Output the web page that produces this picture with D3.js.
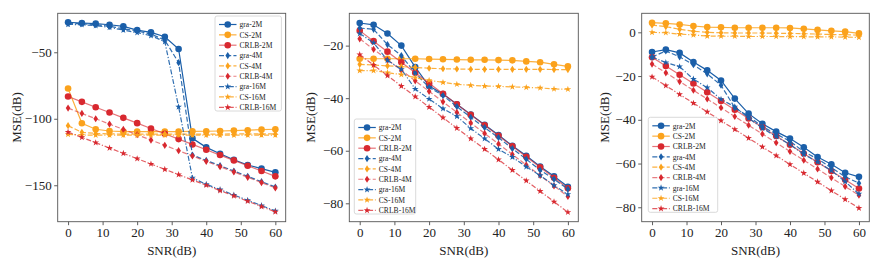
<!DOCTYPE html>
<html><head><meta charset="utf-8">
<script src="https://cdn.jsdelivr.net/npm/d3@7"></script>
<style>
body{margin:0;background:#fff;}
svg{display:block;}
text{font-family:"Liberation Serif","DejaVu Serif",serif;fill:#222;}
</style></head><body>
<svg id="c" width="891" height="262"></svg>
<script>
const snr = [0,4,8,12,16,20,24,28,32,36,40,44,48,52,56,60];
const xTicks = [0,10,20,30,40,50,60];
const seriesNames = ["gra-2M","CS-2M","CRLB-2M","gra-4M","CS-4M","CRLB-4M","gra-16M","CS-16M","CRLB-16M"];

// Panel A
const a_gra2  = [-27.5,-28,-28.5,-29.3,-30.5,-33.3,-35,-38.3,-47.5,-114.7,-121.5,-126.3,-130.8,-134.8,-137.5,-140.3];
const a_cs2   = [-77.3,-103.4,-107.9,-109.2,-109.7,-109.7,-109.7,-109.7,-109.6,-109.5,-109.4,-109.2,-108.9,-108.6,-108.2,-107.9];
const a_crlb2 = [-83.3,-87.3,-91.3,-95.3,-99.3,-103.3,-107.3,-111.3,-115.3,-119.3,-123.3,-127.3,-131.3,-135.3,-139.3,-143.3];
const a_gra4  = [-28.3,-28.5,-29.3,-30.5,-32.3,-34,-36.3,-40.8,-57.8,-127.3,-131.3,-135.3,-139.3,-143.3,-147.3,-151.3];
const a_cs4   = [-105.2,-110.2,-111,-111.4,-111.5,-111.5,-111.5,-111.5,-111.5,-111.5,-111.5,-111.5,-111.4,-111.4,-111.4,-111.3];
const a_crlb4 = [-92,-96,-100,-104,-108,-112,-116,-120,-124,-128,-132,-136,-140,-144,-148,-152];
const a_gra16 = [-29,-29.3,-30,-31.3,-33.3,-35.3,-37.5,-42,-91,-144.5,-149.3,-153.3,-157.3,-161.3,-165.3,-169.3];
const a_cs16  = [-111.7,-112.2,-112.3,-112.3,-112.3,-112.3,-112.3,-112.3,-112.3,-112.3,-112.3,-112.3,-112.3,-112.3,-112.3,-112.3];
const a_crlb16= [-110,-114,-118,-122,-126,-130,-134,-138,-142,-146,-150,-154,-158,-162,-166,-170];
const a_yTicks = [-50,-100,-150];

// Panel B
const b_gra2  = [-11.4,-12.1,-15.4,-20,-28.2,-35.4,-38.4,-42.3,-46.2,-50.1,-54,-58.1,-61.9,-66,-69.7,-73.7];
const b_cs2   = [-25,-25,-25,-25,-25,-25.1,-25.2,-25.3,-25.4,-25.4,-25.5,-25.6,-26,-26.3,-27.1,-27.9];
const b_crlb2 = [-14.3,-18.3,-22.3,-26.3,-30.3,-34.3,-38.3,-42.3,-46.3,-50.3,-54.3,-58.3,-62.3,-66.3,-70.3,-74.3];
const b_gra4  = [-13.3,-13.8,-19.6,-23.8,-30.5,-35.9,-39,-43.2,-47.3,-51.2,-55,-59.2,-63.2,-67.4,-70.8,-74.6];
const b_cs4   = [-27.1,-27.4,-27.7,-28,-28.3,-28.6,-28.8,-28.9,-29,-29,-29,-29,-29,-29,-29.1,-29.1];
const b_crlb4 = [-17.4,-21.4,-25.4,-29.4,-33.4,-37.4,-41.4,-45.4,-49.4,-53.4,-57.4,-61.4,-65.4,-69.4,-73.4,-77.4];
const b_gra16 = [-15.4,-18.9,-25.6,-29,-36.5,-40.3,-44,-46.9,-51.5,-55.4,-59.4,-62.4,-66.1,-69.4,-73.2,-76.6];
const b_cs16  = [-29.5,-29.5,-30.3,-31,-32.2,-33.2,-34,-34.7,-35.1,-35.4,-35.5,-35.7,-35.9,-36.1,-36.5,-36.6];
const b_crlb16= [-23.4,-27.4,-31.4,-35.4,-39.4,-43.4,-47.4,-51.4,-55.4,-59.4,-63.4,-67.4,-71.4,-75.4,-79.4,-83.4];
const b_yTicks = [-20,-40,-60,-80];

// Panel C
const c_gra2  = [-9,-7.9,-9.4,-13.6,-17.4,-22,-30.3,-37.2,-41.8,-45.4,-48.6,-52.6,-57,-60.3,-64.2,-66.1];
const c_cs2   = [4.4,4.1,3.6,2.9,2.4,2.3,2.1,2.1,2.1,2.1,2,1.6,1.1,0.7,0.3,-0.5];
const c_crlb2 = [-11.4,-15.4,-19.4,-23.4,-27.4,-31.4,-35.4,-39.4,-43.4,-47.4,-51.4,-55.4,-59.4,-63.4,-67.4,-71.4];
const c_gra4  = [-11.3,-8.5,-11.2,-14.8,-19,-24.2,-34.5,-38.4,-43.1,-46.5,-49.8,-54.6,-57.9,-61.9,-66,-69];
const c_cs4   = [3.3,2.6,1.4,0.5,0,-0.2,-0.3,-0.3,-0.3,-0.4,-0.5,-0.6,-0.8,-1,-1.1,-1.3];
const c_crlb4 = [-14.5,-18.5,-22.5,-26.5,-30.5,-34.5,-38.5,-42.5,-46.5,-50.5,-54.5,-58.5,-62.5,-66.5,-70.5,-74.5];
const c_gra16 = [-11.3,-13.8,-15.7,-21.4,-25.3,-30.6,-34.1,-39.2,-43.9,-47.7,-51.3,-55.8,-59.3,-63.2,-68.3,-73.9];
const c_cs16  = [0,-0.2,-0.8,-1.2,-1.7,-1.8,-1.8,-1.9,-1.9,-1.9,-2,-2,-2.1,-2.1,-2.2,-2.3];
const c_crlb16= [-20.4,-24.4,-28.4,-32.4,-36.4,-40.4,-44.4,-48.4,-52.4,-56.4,-60.4,-64.4,-68.4,-72.4,-76.4,-80.4];
const c_yTicks = [0,-20,-40,-60,-80];

const BLUE="#1b5fa9", ORANGE="#fba21c", RED="#d8282f";
const styles = [
  {c:BLUE,m:"circle",d:null,lo:1},
  {c:ORANGE,m:"circle",d:null,lo:0.85},
  {c:RED,m:"circle",d:null,lo:0.65},
  {c:BLUE,m:"diamond",d:"5,2.2",lo:0.9},
  {c:ORANGE,m:"diamond",d:"5,2.2",lo:0.85},
  {c:RED,m:"diamond",d:"5,2.2",lo:0.6},
  {c:BLUE,m:"star",d:"5,1.8,1.2,1.8",lo:0.9},
  {c:ORANGE,m:"star",d:"5,1.8,1.2,1.8",lo:0.85},
  {c:RED,m:"star",d:"5,1.8,1.2,1.8",lo:0.75}
];

const panels = [
  {left:57.7,right:285.7,yDom:[-177.4,-20.7],yTicks:a_yTicks,series:[a_gra2,a_cs2,a_crlb2,a_gra4,a_cs4,a_crlb4,a_gra16,a_cs16,a_crlb16],leg:[157.3,2.7],ylab:20.5},
  {left:349.3,right:578.3,yDom:[-87,-7.7],yTicks:b_yTicks,series:[b_gra2,b_cs2,b_crlb2,b_gra4,b_cs4,b_crlb4,b_gra16,b_cs16,b_crlb16],leg:[5,105.7],ylab:314.5},
  {left:641.7,right:869.3,yDom:[-86.6,8.7],yTicks:c_yTicks,series:[c_gra2,c_cs2,c_crlb2,c_gra4,c_cs4,c_crlb4,c_gra16,c_cs16,c_crlb16],leg:[6.6,104],ylab:609}
];
const TOP=13.3, BOT=221.7;
const svg = d3.select("#c");

function marker(g, type, color, x, y){
  if(type==="circle"){
    g.append("circle").attr("cx",x).attr("cy",y).attr("r",3.3).attr("fill",color);
  } else if(type==="diamond"){
    g.append("path").attr("d",`M${x},${y-3.6}L${x+2.3},${y}L${x},${y+3.6}L${x-2.3},${y}Z`).attr("fill",color);
  } else {
    g.append("path").attr("d",d3.symbol(d3.symbolStar,14)()).attr("transform",`translate(${x},${y})`).attr("fill",color);
  }
}

panels.forEach((p)=>{
  const x = d3.scaleLinear().domain([-3,63]).range([p.left,p.right]);
  const y = d3.scaleLinear().domain(p.yDom).range([BOT,TOP]);
  const g = svg.append("g");
  const clipId = "clip"+Math.round(p.left);
  svg.append("clipPath").attr("id",clipId).append("rect").attr("x",p.left).attr("y",TOP).attr("width",p.right-p.left).attr("height",BOT-TOP);
  const plot = g.append("g").attr("clip-path",`url(#${clipId})`);
  const line = d3.line().x((d,i)=>x(snr[i])).y(d=>y(d));
  p.series.forEach((s,k)=>{
    const st = styles[k];
    plot.append("path").attr("d",line(s)).attr("fill","none").attr("stroke",st.c)
      .attr("stroke-opacity",st.lo).attr("stroke-width",1.2)
      .attr("stroke-dasharray",st.d);
    const mg = plot.append("g");
    s.forEach((v,i)=>marker(mg,st.m,st.c,x(snr[i]),y(v)));
  });
  // axes
  const xa = g.append("g").attr("transform",`translate(0,${BOT})`)
    .call(d3.axisBottom(x).tickValues(xTicks).tickSize(3.5).tickPadding(3).tickSizeOuter(0));
  xa.select(".domain").remove();
  xa.selectAll("line").attr("stroke","#333").attr("stroke-width",0.8);
  xa.selectAll("text").attr("font-size",13).attr("fill","#222").attr("font-family","Liberation Serif, serif");
  const ya = g.append("g").attr("transform",`translate(${p.left},0)`)
    .call(d3.axisLeft(y).tickValues(p.yTicks).tickSize(3.5).tickPadding(2.5).tickSizeOuter(0));
  ya.select(".domain").remove();
  ya.selectAll("line").attr("stroke","#333").attr("stroke-width",0.8);
  ya.selectAll("text").attr("font-size",13).attr("fill","#222").attr("font-family","Liberation Serif, serif");
  g.append("rect").attr("x",p.left).attr("y",TOP).attr("width",p.right-p.left).attr("height",BOT-TOP)
    .attr("fill","none").attr("stroke","#555").attr("stroke-width",0.9);
  g.append("text").attr("x",(p.left+p.right)/2).attr("y",254.5).attr("text-anchor","middle")
    .attr("font-size",13).text("SNR(dB)");
  g.append("text").attr("transform",`translate(${p.ylab},${(TOP+BOT)/2}) rotate(-90)`).attr("text-anchor","middle")
    .attr("font-size",13).text("MSE(dB)");
  // legend
  const lx = p.left+p.leg[0], ly = TOP+p.leg[1];
  const lg = g.append("g");
  const lw = (Math.round(p.left)===58)?66.4:(Math.round(p.left)===349?61.4:69.4);
  lg.append("rect").attr("x",lx).attr("y",ly).attr("width",lw).attr("height",95).attr("rx",2)
    .attr("fill","#fff").attr("fill-opacity",0.85).attr("stroke","#d0d0d0").attr("stroke-width",0.8);
  seriesNames.forEach((n,k)=>{
    const st = styles[k];
    const yy = ly+8.5+k*10.35;
    lg.append("line").attr("x1",lx+4).attr("x2",lx+21.5).attr("y1",yy).attr("y2",yy)
      .attr("stroke",st.c).attr("stroke-opacity",st.lo).attr("stroke-width",1.2).attr("stroke-dasharray",st.d);
    marker(lg,st.m,st.c,lx+12.75,yy);
    lg.append("text").attr("x",lx+24.5).attr("y",yy+2.7).attr("font-size",7.6).text(n);
  });
});
</script>
</body></html>
